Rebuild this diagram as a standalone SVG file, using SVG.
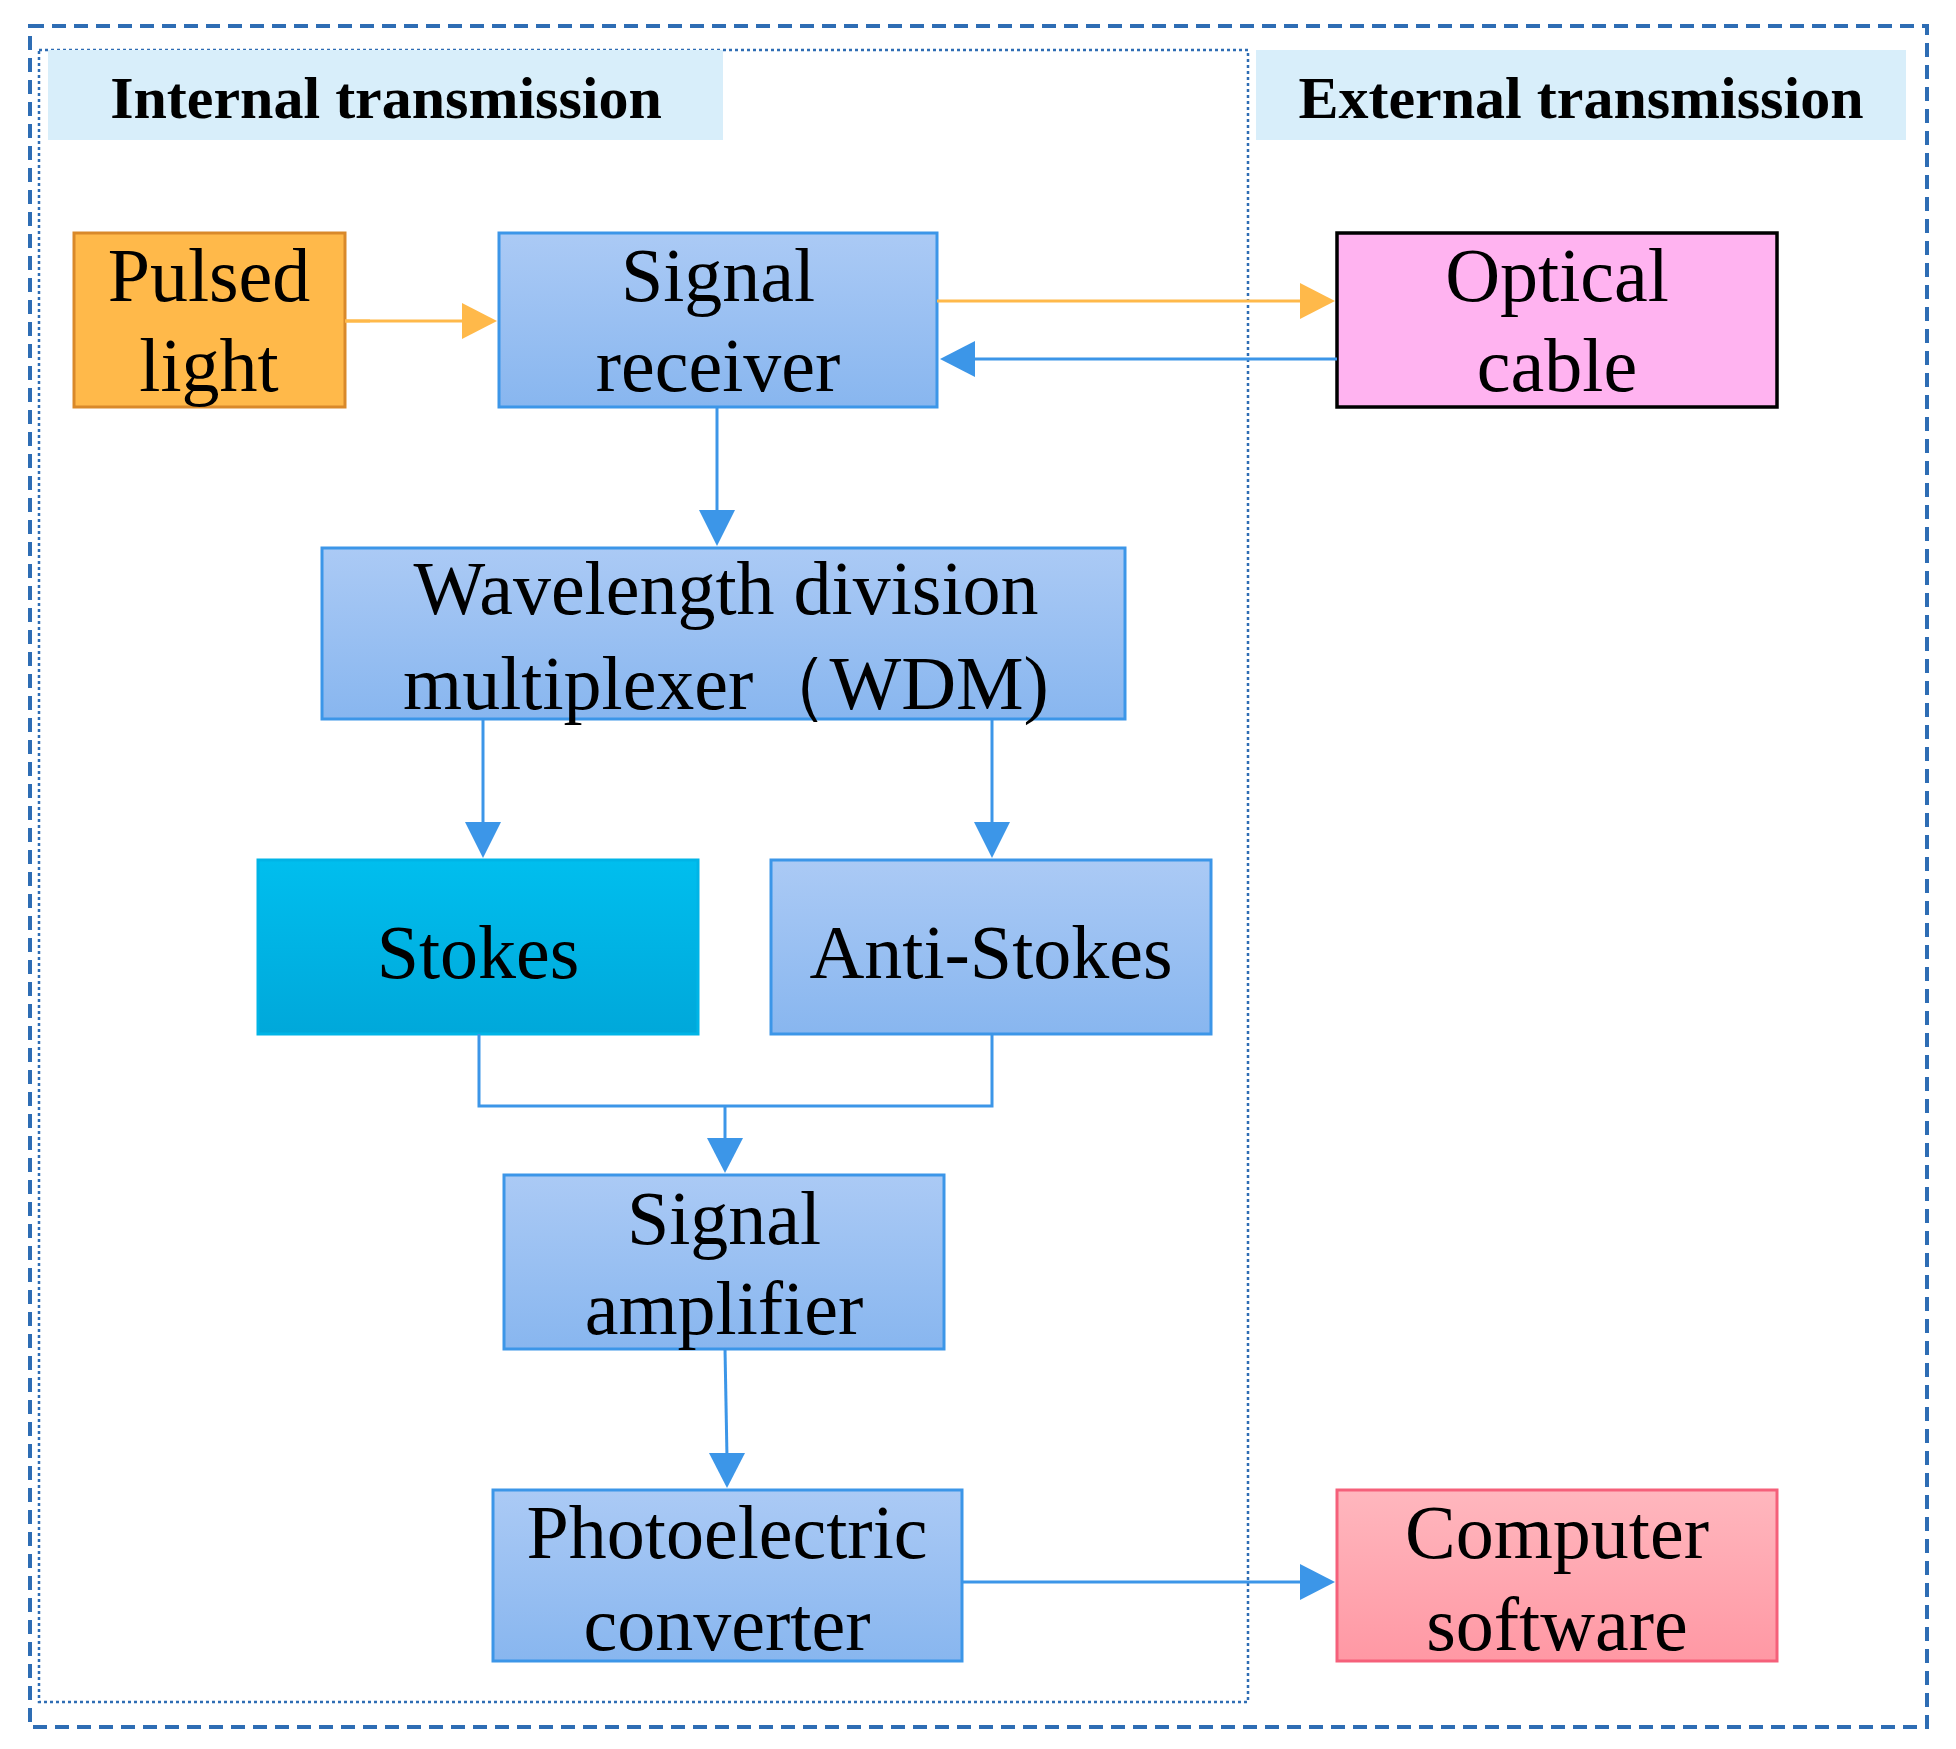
<svg xmlns="http://www.w3.org/2000/svg" width="1956" height="1749" viewBox="0 0 1956 1749">
<style>
.t{font-family:"Liberation Serif","Times New Roman",serif;font-size:76px;fill:#000;text-anchor:middle}
.h{font-family:"Liberation Serif","Times New Roman",serif;font-size:60px;font-weight:bold;fill:#000;text-anchor:middle}
.b{fill:url(#gb);stroke:#3C96E8;stroke-width:3}
.lb{fill:none;stroke:#3C96E8;stroke-width:3}
.lo{fill:none;stroke:#FFB94A;stroke-width:3}
</style>
<defs>
<linearGradient id="gb" x1="0" y1="0" x2="0" y2="1"><stop offset="0" stop-color="#ABCAF5"/><stop offset="1" stop-color="#88B6EF"/></linearGradient>
<linearGradient id="gs" x1="0" y1="0" x2="0" y2="1"><stop offset="0" stop-color="#00BEEE"/><stop offset="1" stop-color="#00A8DA"/></linearGradient>
<linearGradient id="gc" x1="0" y1="0" x2="0" y2="1"><stop offset="0" stop-color="#FFB7BE"/><stop offset="1" stop-color="#FF98A4"/></linearGradient>
<marker id="ab" markerWidth="12" markerHeight="12" refX="11" refY="6" orient="auto" markerUnits="userSpaceOnUse" viewBox="0 0 12 12"><path d="M0,0L12,6L0,12Z" fill="#3C96E8"/></marker>
<marker id="ao" markerWidth="12" markerHeight="12" refX="11" refY="6" orient="auto" markerUnits="userSpaceOnUse" viewBox="0 0 12 12"><path d="M0,0L12,6L0,12Z" fill="#FFB94A"/></marker>
</defs>
<rect width="1956" height="1749" fill="#fff"/>
<rect x="30" y="26" width="1897" height="1701" fill="none" stroke="#2E6DB4" stroke-width="4" stroke-dasharray="14,8"/>
<rect x="39" y="50" width="1209" height="1652" fill="none" stroke="#2E6DB4" stroke-width="2.5" stroke-dasharray="3,3"/>
<g id="hdr-int"><rect x="48" y="50" width="675" height="90" fill="#D8EEFA"/><text class="h" x="386" y="118">Internal transmission</text></g>
<g id="hdr-ext"><rect x="1256" y="50" width="650" height="90" fill="#D8EEFA"/><text class="h" x="1581" y="118">External transmission</text></g>
<g id="pulsed"><rect x="74" y="233" width="271" height="174" fill="#FFB94A" stroke="#D9892A" stroke-width="3"/><text class="t" x="209" y="301">Pulsed</text><text class="t" x="209" y="391">light</text></g>
<g id="receiver"><rect class="b" x="499" y="233" width="438" height="174"/><text class="t" x="718" y="301">Signal</text><text class="t" x="718" y="391">receiver</text></g>
<g id="optical"><rect x="1337" y="233" width="440" height="174" fill="#FFB3F0" stroke="#000" stroke-width="3.5"/><text class="t" x="1557" y="301">Optical</text><text class="t" x="1557" y="391">cable</text></g>
<g id="wdm"><rect class="b" x="322" y="548" width="803" height="171"/><text class="t" x="726" y="614">Wavelength division</text><text class="t" x="726" y="709">multiplexer（WDM)</text></g>
<g id="stokes"><rect x="258" y="860" width="440" height="174" fill="url(#gs)" stroke="#00B4E6" stroke-width="3"/><text class="t" x="478" y="978">Stokes</text></g>
<g id="anti"><rect class="b" x="771" y="860" width="440" height="174"/><text class="t" x="991" y="978">Anti-Stokes</text></g>
<g id="amp"><rect class="b" x="504" y="1175" width="440" height="174"/><text class="t" x="724" y="1244">Signal</text><text class="t" x="724" y="1334">amplifier</text></g>
<g id="photo"><rect class="b" x="493" y="1490" width="469" height="171"/><text class="t" x="727" y="1558">Photoelectric</text><text class="t" x="727" y="1650">converter</text></g>
<g id="computer"><rect x="1337" y="1490" width="440" height="171" fill="url(#gc)" stroke="#F5607A" stroke-width="3"/><text class="t" x="1557" y="1558">Computer</text><text class="t" x="1557" y="1650">software</text></g>
<g id="connectors">
<line class="lo" x1="345" y1="321" x2="370" y2="321"/><path d="M462,303L497,321L462,339Z" fill="#FFB94A"/><line class="lo" x1="345" y1="321" x2="465" y2="321"/>
<line class="lo" x1="937" y1="301" x2="1305" y2="301"/><path d="M1300,283L1335,301L1300,319Z" fill="#FFB94A"/>
<line class="lb" x1="1337" y1="359" x2="970" y2="359"/><path d="M975,341L940,359L975,377Z" fill="#3C96E8"/>
<line class="lb" x1="717" y1="407" x2="717" y2="515"/><path d="M699,510L717,546L735,510Z" fill="#3C96E8"/>
<line class="lb" x1="483" y1="719" x2="483" y2="827"/><path d="M465,822L483,858L501,822Z" fill="#3C96E8"/>
<line class="lb" x1="992" y1="719" x2="992" y2="827"/><path d="M974,822L992,858L1010,822Z" fill="#3C96E8"/>
<polyline class="lb" points="479,1034 479,1106 992,1106 992,1034"/>
<line class="lb" x1="725" y1="1106" x2="725" y2="1143"/><path d="M707,1138L725,1173L743,1138Z" fill="#3C96E8"/>
<line class="lb" x1="725" y1="1349" x2="727" y2="1458"/><path d="M709,1453L727,1488L745,1453Z" fill="#3C96E8"/>
<line class="lb" x1="962" y1="1582" x2="1305" y2="1582"/><path d="M1300,1564L1335,1582L1300,1600Z" fill="#3C96E8"/>
</g>
</svg>
